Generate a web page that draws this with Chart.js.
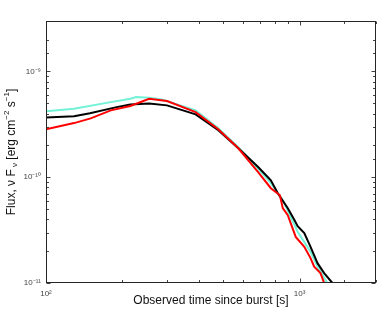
<!DOCTYPE html>
<html><head><meta charset="utf-8">
<script src="https://cdn.jsdelivr.net/npm/chart.js@4/dist/chart.umd.min.js"></script>
<style>html,body{margin:0;padding:0;background:#fff}#wrap{width:382px;height:312px}</style>
</head><body><div id="wrap"><canvas id="c" width="382" height="312"></canvas></div>
<script>
// ---- data ----
const blackTime = [100, 129, 149, 190, 215, 255, 300, 389, 478, 573, 686, 770, 820, 898, 950, 982, 1043, 1104, 1176, 1249, 1346];
const blackFlux = [3.68e-10, 3.78e-10, 4.02e-10, 4.6e-10, 4.88e-10, 4.98e-10, 4.78e-10, 3.93e-10, 2.78e-10, 1.88e-10, 1.25e-10, 9.37e-11, 7.06e-11, 5.10e-11, 4.0e-11, 3.45e-11, 2.96e-11, 2.20e-11, 1.54e-11, 1.24e-11, 1.0e-11];
const redTime = [100, 129, 150, 180, 215, 255, 300, 389, 478, 573, 686, 770, 836, 858, 898, 965, 1043, 1104, 1141, 1208, 1249];
const redFlux = [2.84e-10, 3.25e-10, 3.6e-10, 4.29e-10, 4.71e-10, 5.52e-10, 5.25e-10, 4.13e-10, 2.84e-10, 1.88e-10, 1.12e-10, 7.87e-11, 6.76e-11, 5.10e-11, 4.38e-11, 2.73e-11, 2.20e-11, 1.72e-11, 1.43e-11, 1.24e-11, 1.0e-11];
const cyanTime = [100, 129, 180, 215, 227, 255, 286, 389, 478, 573, 686, 770, 858, 982, 1104, 1176, 1286];
const cyanFlux = [4.20e-10, 4.45e-10, 5.13e-10, 5.52e-10, 5.72e-10, 5.65e-10, 5.44e-10, 4.29e-10, 2.90e-10, 1.92e-10, 1.21e-10, 8.78e-11, 6.07e-11, 3.05e-11, 1.97e-11, 1.43e-11, 1.0e-11];
const xTickLabels = {2: '10\u00B2', 3: '10\u00B3'};
const yTickLabels = {'-11': '10\u207B\u00B9\u00B9', '-10': '10\u207B\u00B9\u2070', '-9': '10\u207B\u2079'};
const xTitle = 'Observed time since burst [s]';

const pts = (xs, ys) => xs.map((v, i) => ({x: v, y: ys[i]}));
const isDecade = v => Math.abs(Math.log10(v) - Math.round(Math.log10(v))) < 1e-6;

const framePlugin = {
  id: 'frame',
  afterDraw(chart) {
    const {ctx, chartArea: a, scales: {x, y}} = chart;
    ctx.save();
    ctx.strokeStyle = '#444';
    ctx.lineWidth = 1;
    const L = Math.round(a.left) + 0.5, R = Math.round(a.right) - 0.5;
    const T = Math.round(a.top) + 0.5, B = Math.round(a.bottom) - 0.5;
    ctx.beginPath();
    x.ticks.forEach(t => {
      const p = Math.round(x.getPixelForValue(t.value)) + 0.5;
      if (p < L - 1 || p > R + 1) return;
      const len = isDecade(t.value) ? 4 : 2.5;
      ctx.moveTo(p, B); ctx.lineTo(p, B - len);
      ctx.moveTo(p, T); ctx.lineTo(p, T + len);
    });
    y.ticks.forEach(t => {
      const p = Math.round(y.getPixelForValue(t.value)) + 0.5;
      if (p < T - 1 || p > B + 1) return;
      const len = isDecade(t.value) ? 4 : 2.5;
      ctx.moveTo(L, p); ctx.lineTo(L + len, p);
      ctx.moveTo(R, p); ctx.lineTo(R - len, p);
    });
    ctx.stroke();
    ctx.strokeStyle = '#262626';
    ctx.strokeRect(L, T, R - L, B - T);
    // y-axis title with sub/superscripts
    const segs = [
      ['Flux, \u03BD F', 0, 12], [' \u03BD', 3, 8], [' [erg cm', 0, 12], ['\u22122', -5, 8],
      [' s', 0, 12], ['\u22121', -5, 8], [']', 0, 12]
    ];
    let total = 0;
    segs.forEach(s => { ctx.font = s[2] + 'px "Liberation Sans", Arial, sans-serif'; total += ctx.measureText(s[0]).width; });
    ctx.translate(12, (a.top + a.bottom) / 2);
    ctx.rotate(-Math.PI / 2);
    ctx.fillStyle = '#111';
    ctx.textBaseline = 'middle';
    let cx = -total / 2;
    segs.forEach(s => {
      ctx.font = s[2] + 'px "Liberation Sans", Arial, sans-serif';
      ctx.fillText(s[0], cx, s[1]);
      cx += ctx.measureText(s[0]).width;
    });
    ctx.restore();
  }
};

new Chart(document.getElementById('c'), {
  type: 'line',
  data: {
    datasets: [
      {data: pts(redTime, redFlux), borderColor: '#ff0000', borderWidth: 2, pointRadius: 0, tension: 0},
      {data: pts(blackTime, blackFlux), borderColor: '#000000', borderWidth: 2, pointRadius: 0, tension: 0},
      {data: pts(cyanTime, cyanFlux), borderColor: '#72F2D6', borderWidth: 2, pointRadius: 0, tension: 0}
    ]
  },
  options: {
    responsive: false,
    animation: false,
    layout: {padding: {left: 0, top: 21, right: 3, bottom: 0}},
    plugins: {legend: {display: false}, tooltip: {enabled: false}},
    scales: {
      x: {
        type: 'logarithmic', min: 100, max: 2000,
        grid: {display: false, drawTicks: false},
        border: {display: false},
        ticks: {
          autoSkip: false, maxRotation: 0, padding: 6, color: '#444',
          font: {size: 8, family: '"Liberation Sans", Arial, sans-serif'},
          callback: v => { const k = Math.round(Math.log10(v)); return isDecade(v) && xTickLabels[k] ? xTickLabels[k] : ''; }
        },
        title: {display: true, text: xTitle, color: '#111', font: {size: 12, family: '"Liberation Sans", Arial, sans-serif'}, padding: {top: 4, bottom: 4}},
        afterFit: s => { s.height = 29; }
      },
      y: {
        type: 'logarithmic', min: 1e-11, max: 3e-9,
        grid: {display: false, drawTicks: false},
        border: {display: false},
        ticks: {
          autoSkip: false, padding: 5, color: '#444',
          font: {size: 8, family: '"Liberation Sans", Arial, sans-serif'},
          callback: v => { const k = Math.round(Math.log10(v)); return isDecade(v) && yTickLabels[k] ? yTickLabels[k] : ''; }
        },
        afterFit: s => { s.width = 46; }
      }
    }
  },
  plugins: [framePlugin]
});
</script></body></html>
